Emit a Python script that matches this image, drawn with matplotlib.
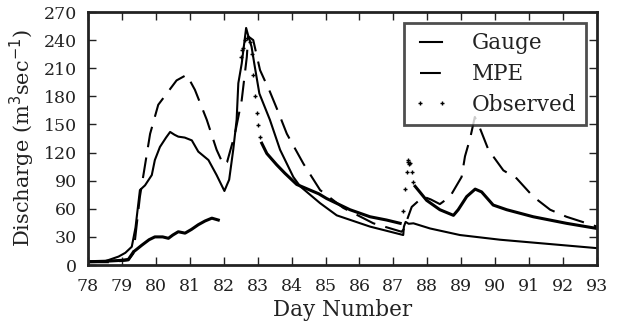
import numpy as np
import matplotlib
matplotlib.use('Agg')
import matplotlib.pyplot as plt

plt.rcParams['font.family'] = 'DejaVu Serif'

# gauge-driven simulation
gauge_day = [78.0, 78.5, 78.9, 79.1, 79.29, 79.4, 79.53, 79.68, 79.88, 79.97, 80.12, 80.3,
             80.42, 80.55, 80.66, 80.85, 81.06, 81.25, 81.55, 81.79, 82.02, 82.1, 82.16,
             82.28, 82.38, 82.43, 82.53, 82.66, 82.72, 82.82, 82.9, 83.05, 83.36, 83.66,
             84.05, 84.25, 84.84, 85.33, 86.31, 87.29, 87.31, 87.36, 87.45, 87.59, 88.08,
             88.96, 90.14, 93.0]
gauge_val = [4, 4, 9, 13, 19.5, 40, 80, 85, 96, 112, 126, 136,
             142, 139, 137, 136, 133, 121, 112, 96, 79, 86, 91,
             123, 155, 194, 215, 253, 245, 233, 215, 183, 155, 123,
             94, 84, 66, 53, 41, 32, 41, 46, 44, 44.5, 39,
             32, 27, 18]

# MPE-driven simulation
mpe_day = [78.0, 78.6, 79.19, 79.34, 79.53, 79.83, 80.07, 80.32, 80.61, 80.91, 81.15, 81.5,
           81.79, 81.99, 82.1, 82.33, 82.53, 82.68, 82.72, 82.87, 83.07, 83.17, 83.36, 83.61,
           83.86, 84.35, 84.84, 85.52, 86.41, 87.24, 87.3, 87.54, 87.88, 88.1, 88.37, 88.67,
           89.01, 89.11, 89.26, 89.4, 89.55, 89.8, 90.24, 90.63, 91.12, 91.62, 92.1, 93.0]
mpe_val = [3, 3, 5, 12.5, 73, 140, 171, 183, 197, 203, 187, 155,
           123, 107, 110, 140, 176, 222, 244, 240, 208, 200, 185, 163,
           140, 108, 80, 61, 44.5, 35.5, 38, 62, 73, 70, 65, 73,
           94, 116, 135, 158, 146, 123, 101, 92.5, 73, 59, 51.5, 41]

# observed discharge, dense stretches (nan = gap)
obs_day = [78.0, 78.5, 79.0, 79.19, 79.34, 79.58, 79.8, 79.97, 80.2, 80.37, 80.5, 80.66,
           80.86, 81.05, 81.25, 81.45, 81.65, 81.84, np.nan,
           83.12, 83.27, 83.56, 83.8, 84.15, 84.54, 84.8, 85.03, 85.72, 86.31, 86.8, 87.2,
           np.nan,
           87.64, 87.98, 88.37, 88.77, 88.91, 89.16, 89.41, 89.6, 89.94, 90.34, 91.12,
           92.1, 93.0]
obs_val = [3.5, 4, 5, 6, 14, 21, 27, 30, 30, 28.5, 32, 35.5,
           34, 38, 43, 47, 50, 48, np.nan,
           130, 119, 107, 98, 86, 80, 76, 71, 59, 51.5, 48, 44.5,
           np.nan,
           84, 69, 59, 53, 59, 73, 81, 78, 64, 59, 51.5,
           44.5, 39]

# observed discharge, sparse samples
obs_pt_day = [82.5, 82.53, 82.56, 82.62, 82.7, 82.77, 82.82, 82.87, 82.92, 82.97, 83.02,
              83.07, 87.29, 87.34, 87.39, 87.42, 87.44, 87.47, 87.49, 87.54, 87.59]
obs_pt_val = [222, 229, 232, 240, 242, 238, 225, 203, 180, 162, 149,
              137, 58, 81, 99, 110, 112, 108, 109, 99, 89]

fig = plt.figure(figsize=(6.18, 3.29), dpi=100)
ax = fig.add_axes([0.1424, 0.1945, 0.8236, 0.769])

ax.plot(gauge_day, gauge_val, color='black', lw=1.5, label='Gauge')
ax.plot(mpe_day, mpe_val, color='black', lw=1.5, linestyle=(0, (10, 5)), label='MPE')
ax.plot(obs_day, obs_val, color='black', lw=2.2)
ax.plot(obs_pt_day, obs_pt_val, color='black', linestyle='none', marker='+',
        markersize=3, markeredgewidth=1, label='Observed')

ax.set_xlim(78, 93)
ax.set_ylim(0, 270)
ax.set_xticks(range(78, 94))
ax.set_yticks(range(0, 271, 30))
ax.tick_params(direction='in', top=True, right=True, length=6, width=1,
               labelsize=12.5, colors='#222222')
ax.tick_params(axis='x', pad=9)
ax.tick_params(axis='y', pad=8)
for s in ax.spines.values():
    s.set_linewidth(2)
    s.set_color('#222222')
ax.set_xlabel('Day Number', fontsize=15.5, color='#222222', labelpad=3)
ax.set_ylabel('Discharge (m$^3$sec$^{-1}$)', fontsize=15, color='#222222', labelpad=5)

leg = ax.legend(loc='upper right', fontsize=15.5, numpoints=2, fancybox=False,
                handlelength=1.6, handletextpad=1.1, borderaxespad=0.5,
                labelspacing=0.4, borderpad=0.45)
leg.get_frame().set_edgecolor('#222222')
leg.get_frame().set_linewidth(2)
for t in leg.get_texts():
    t.set_color('#222222')

fig.savefig('out.png', dpi=100)
